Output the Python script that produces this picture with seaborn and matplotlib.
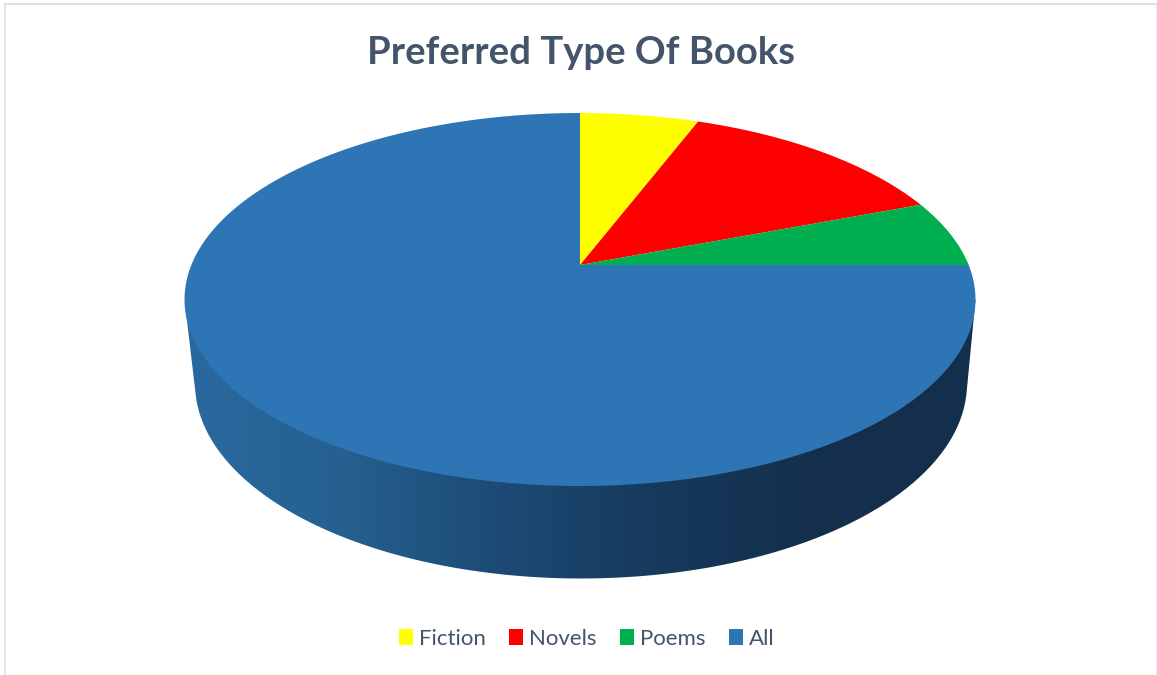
import numpy as np
import matplotlib
matplotlib.use("Agg")
import matplotlib.pyplot as plt
import seaborn as sns
from matplotlib.patches import Rectangle, PathPatch
from matplotlib.path import Path
from matplotlib.transforms import Transform

# --- data ---
categories = ["Fiction", "Novels", "Poems", "All"]
values = [5.8, 13.4, 5.8, 75]
slice_colors = ["#FFFF00", "#FF0000", "#00B050", "#2E75B6"]
side_stops = ["#2A69A0", "#25608F", "#1C4A75", "#17395C", "#132F4C", "#132F4C"]
title = "Preferred Type Of Books"

TEXT = "#44546A"
W, H = 1157, 675
R = 500.0                 # pie radius in data units
CX, CY, A, B = 580.0, 299.5, 395.5, 186.5   # top ellipse, pixels
TILT = 34.5 / 186.5       # perspective shift of the pie's centre


class DiskProjection(Transform):
    """Perspective view of the flat pie, onto the pixel grid."""
    input_dims = output_dims = 2

    def transform_non_affine(self, xy):
        xy = np.asarray(xy, float)
        u, v = xy[:, 0] / R, xy[:, 1] / R
        d = 1 + TILT * v
        X = u * np.sqrt(1 - TILT ** 2) / d
        Y = (v + TILT) / d
        return np.column_stack([CX + A * X, CY - B * Y])

    def transform_path_non_affine(self, path):
        polys = path.to_polygons(closed_only=True)
        return Path(self.transform_non_affine(polys[0]), closed=True)


sns.set_theme(style="white")
plt.rcParams["font.family"] = ["Lato", "DejaVu Sans"]

fig = plt.figure(figsize=(W / 100, H / 100), dpi=100, facecolor="white")
ax = fig.add_axes([5 / W, 0, (1156 - 5) / W, (H - 4) / H])

wedges, _ = ax.pie(values, colors=slice_colors, startangle=90, counterclock=False,
                   radius=R, wedgeprops=dict(linewidth=0, zorder=3))
proj = DiskProjection()
ax.set_aspect("auto")
ax.set_xlim(5, 1156)
ax.set_ylim(H, 4)
for w in wedges:
    w.set_transform(proj + ax.transData)
    w.set_antialiased(True)

# cylinder wall with horizontal shading
th = np.linspace(np.pi, 0, 200)
low_a, low_b, low_cx, low_cy = 386.0, 195.0, 581.0, 383.5
arc = np.column_stack([low_cx + low_a * np.cos(th), low_cy + low_b * np.sin(th)])
arc = arc[(arc[:, 1] >= 392)]
wall = np.vstack([[CX - A, CY], arc, [CX + A, CY], [CX, CY]])
clip = PathPatch(Path(wall, closed=False), transform=ax.transData,
                 facecolor="none", edgecolor="none")
ax.add_patch(clip)
shade = np.array(sns.blend_palette(side_stops, n_colors=256))[None, :, :]
im = ax.imshow(shade, extent=(CX - A, CX + A, 580, CY), aspect="auto", zorder=1,
               interpolation="bilinear")
im.set_clip_path(clip)
ax.set_xlim(5, 1156)
ax.set_ylim(H, 4)

ax.set_xticks([])
ax.set_yticks([])
ax.set_frame_on(True)
ax.spines["bottom"].set_visible(False)
ax.spines["left"].set(visible=True, color="#DDE2EE", linewidth=1.4)
ax.spines["top"].set(visible=True, color="#DDE2E6", linewidth=1.4)
ax.spines["right"].set(visible=True, color="#EEF0F5", linewidth=1.0)

ax.set_title(title, fontsize=27.5, fontweight="bold", color=TEXT, pad=0,
             y=(H - 64.5) / (H - 4))

handles = [Rectangle((0, 0), 1, 1, facecolor=c, edgecolor="none") for c in slice_colors]
ax.legend(handles, categories, ncol=4, loc="center", frameon=False,
          bbox_to_anchor=(586.5, 639), bbox_transform=ax.transData,
          fontsize=16, labelcolor=TEXT, handlelength=0.63, handleheight=0.72,
          handletextpad=0.27, columnspacing=1.05, borderpad=0, borderaxespad=0)

fig.savefig("out.png", dpi=100, facecolor="white")
